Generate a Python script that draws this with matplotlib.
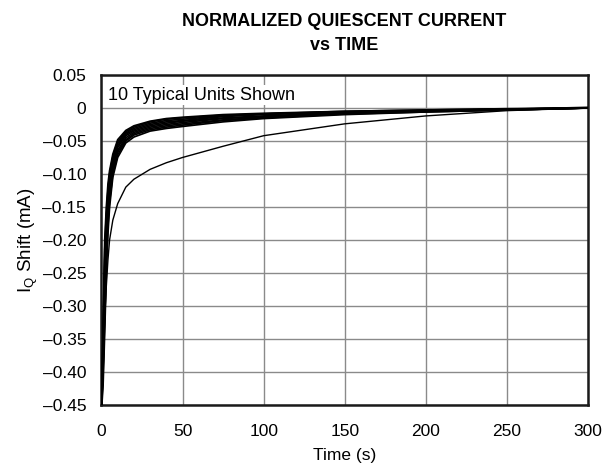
import matplotlib
matplotlib.use("Agg")
import matplotlib.pyplot as plt
import numpy as np

plt.rcParams['font.family'] = ['Liberation Sans', 'DejaVu Sans']

time_s = [0, 1, 2, 3, 4, 5, 7, 10, 15, 20, 30, 40, 50, 75, 100, 150, 200, 250, 300]

unit1 = [-0.46, -0.33, -0.20, -0.15, -0.115, -0.095, -0.070, -0.048, -0.034, -0.027, -0.020, -0.016, -0.014, -0.010, -0.008, -0.005, -0.003, -0.0015, 0.0]
unit2 = [-0.46, -0.34, -0.215, -0.16, -0.125, -0.100, -0.074, -0.051, -0.036, -0.029, -0.021, -0.017, -0.015, -0.011, -0.009, -0.005, -0.003, -0.001, 0.0]
unit3 = [-0.46, -0.35, -0.23, -0.17, -0.130, -0.105, -0.078, -0.054, -0.038, -0.031, -0.023, -0.019, -0.017, -0.012, -0.009, -0.006, -0.004, -0.002, 0.0]
unit4 = [-0.46, -0.36, -0.245, -0.18, -0.140, -0.112, -0.082, -0.057, -0.040, -0.033, -0.025, -0.021, -0.019, -0.013, -0.010, -0.006, -0.004, -0.002, 0.001]
unit5 = [-0.46, -0.37, -0.26, -0.19, -0.148, -0.120, -0.086, -0.060, -0.042, -0.035, -0.027, -0.023, -0.020, -0.015, -0.012, -0.007, -0.004, -0.002, 0.0]
unit6 = [-0.46, -0.38, -0.28, -0.205, -0.158, -0.128, -0.090, -0.064, -0.045, -0.037, -0.029, -0.025, -0.022, -0.016, -0.013, -0.008, -0.005, -0.002, 0.0]
unit7 = [-0.46, -0.39, -0.30, -0.22, -0.168, -0.135, -0.095, -0.067, -0.048, -0.039, -0.031, -0.027, -0.024, -0.018, -0.014, -0.008, -0.005, -0.003, 0.0]
unit8 = [-0.46, -0.40, -0.32, -0.235, -0.178, -0.142, -0.100, -0.071, -0.050, -0.041, -0.033, -0.029, -0.026, -0.019, -0.015, -0.009, -0.006, -0.003, 0.0]
unit9 = [-0.46, -0.42, -0.34, -0.25, -0.190, -0.150, -0.105, -0.075, -0.053, -0.044, -0.035, -0.031, -0.028, -0.021, -0.016, -0.010, -0.006, -0.003, 0.0]
unit10 = [-0.46, -0.40, -0.32, -0.27, -0.230, -0.200, -0.170, -0.145, -0.120, -0.108, -0.093, -0.083, -0.075, -0.058, -0.042, -0.024, -0.012, -0.004, 0.0]

units = [unit1, unit2, unit3, unit4, unit5, unit6, unit7, unit8, unit9, unit10]

x_ticks = [0, 50, 100, 150, 200, 250, 300]
y_ticks = [0.05, 0, -0.05, -0.10, -0.15, -0.20, -0.25, -0.30, -0.35, -0.40, -0.45]
y_tick_labels = ['0.05', '0', '\u20130.05', '\u20130.10', '\u20130.15', '\u20130.20',
                 '\u20130.25', '\u20130.30', '\u20130.35', '\u20130.40', '\u20130.45']

fig = plt.figure(figsize=(6.15, 4.69), dpi=100)
ax = fig.add_axes([0.165, 0.137, 0.791, 0.703])

for i, u in enumerate(units):
    ax.plot(time_s, u, color='black', lw=1.0 if i == 9 else 1.25, zorder=3)

ax.set_xlim(0, 300)
ax.set_ylim(-0.45, 0.05)
ax.set_xticks(x_ticks)
ax.set_yticks(y_ticks)
ax.set_yticklabels(y_tick_labels)
ax.tick_params(axis='y', length=0, labelsize=12.5, pad=11)
ax.tick_params(axis='x', length=0, labelsize=12.5, pad=14)
ax.grid(True, color='#8a8a8a', lw=1.0, zorder=1)
ax.set_axisbelow(True)
for sp in ax.spines.values():
    sp.set_linewidth(1.8)
    sp.set_color('#1a1a1a')

ax.set_xlabel('Time (s)', fontsize=12.5, labelpad=6)
ax.set_ylabel(r'I$_\mathregular{Q}$ Shift (mA)', fontsize=13.5, labelpad=2)

ax.text(0.013, 0.965, '10 Typical Units Shown', transform=ax.transAxes,
        fontsize=13, va='top', ha='left', zorder=2,
        bbox=dict(facecolor='white', edgecolor='none', pad=1.0))

fig.text(0.56, 0.972, 'NORMALIZED QUIESCENT CURRENT\nvs TIME', ha='center', va='top',
         fontsize=13, fontweight='bold', linespacing=1.55)

fig.savefig('out.png', dpi=100)
